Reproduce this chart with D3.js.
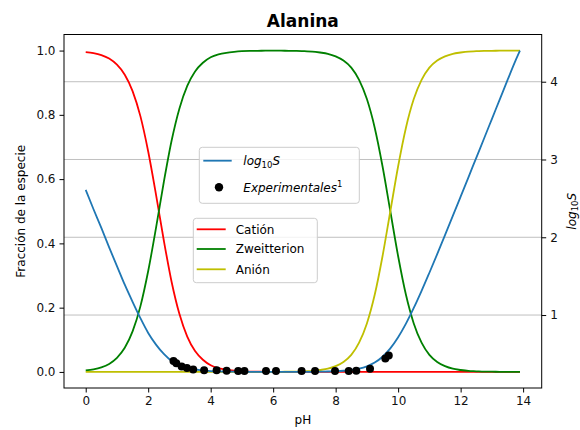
<!DOCTYPE html>
<html lang="es">
<head>
<meta charset="UTF-8">
<script src="https://d3js.org/d3.v7.min.js"></script>
<style>
  body { margin: 0; background: #fff; }
  svg { font-family: "DejaVu Sans", sans-serif; }
</style>
<title>Alanina</title>
</head>
<body>
<div id="chart"></div>
<script>
// valores
const pH = [0, 0.25, 0.5, 0.75, 1, 1.25, 1.5, 1.75, 2, 2.25, 2.5, 2.75, 3, 3.25, 3.5, 3.75, 4, 4.25, 4.5, 4.75,
            5, 5.25, 5.5, 5.75, 6, 6.25, 6.5, 6.75, 7, 7.25, 7.5, 7.75, 8, 8.25, 8.5, 8.75, 9, 9.25, 9.5, 9.75,
            10, 10.25, 10.5, 10.75, 11, 11.25, 11.5, 11.75, 12, 12.25, 12.5, 12.75, 13, 13.25, 13.5, 13.75, 13.9];
const cation = [0.995, 0.992, 0.986, 0.975, 0.956, 0.925, 0.874, 0.796, 0.686, 0.552, 0.409, 0.280, 0.180, 0.110, 0.065, 0.038, 0.021, 0.012, 0.007, 0.004,
                0.002, 0.001, 0.001, 0, 0, 0, 0, 0, 0, 0, 0, 0, 0, 0, 0, 0, 0, 0, 0, 0,
                0, 0, 0, 0, 0, 0, 0, 0, 0, 0, 0, 0, 0, 0, 0, 0, 0];
const zwitterion = [0.005, 0.008, 0.014, 0.025, 0.044, 0.075, 0.126, 0.204, 0.314, 0.448, 0.591, 0.720, 0.820, 0.890, 0.935, 0.962, 0.979, 0.988, 0.993, 0.996,
                    0.998, 0.999, 0.999, 1.0, 1.0, 1.0, 0.999, 0.999, 0.998, 0.997, 0.994, 0.990, 0.982, 0.969, 0.947, 0.909, 0.849, 0.760, 0.640, 0.500,
                    0.360, 0.240, 0.151, 0.091, 0.053, 0.031, 0.018, 0.010, 0.006, 0.003, 0.002, 0.001, 0.001, 0, 0, 0, 0];
const anion = [0, 0, 0, 0, 0, 0, 0, 0, 0, 0, 0, 0, 0, 0, 0, 0, 0, 0, 0, 0,
               0, 0, 0, 0, 0, 0, 0.001, 0.001, 0.002, 0.003, 0.006, 0.010, 0.018, 0.031, 0.053, 0.091, 0.151, 0.240, 0.360, 0.500,
               0.640, 0.760, 0.849, 0.909, 0.947, 0.969, 0.982, 0.990, 0.994, 0.997, 0.998, 0.999, 0.999, 1.0, 1.0, 1.0, 1.0];
const logS = [2.61, 2.36, 2.12, 1.87, 1.63, 1.39, 1.17, 0.96, 0.77, 0.62, 0.50, 0.41, 0.36, 0.32, 0.30, 0.29, 0.28, 0.275, 0.273, 0.272,
              0.271, 0.27, 0.27, 0.27, 0.27, 0.27, 0.27, 0.27, 0.27, 0.27, 0.272, 0.274, 0.278, 0.284, 0.294, 0.311, 0.341, 0.389, 0.464, 0.571,
              0.714, 0.889, 1.091, 1.311, 1.544, 1.783, 2.028, 2.274, 2.522, 2.771, 3.021, 3.270, 3.520, 3.770, 4.020, 4.265, 4.40];

const expPH   = [2.81, 2.90, 3.07, 3.24, 3.44, 3.79, 4.19, 4.51, 4.88, 5.08, 5.77, 6.09, 6.91, 7.34, 7.98, 8.42, 8.66, 9.10, 9.59, 9.70];
const expLogS = [0.41, 0.38, 0.34, 0.32, 0.30, 0.29, 0.29, 0.285, 0.28, 0.28, 0.28, 0.28, 0.28, 0.28, 0.28, 0.28, 0.285, 0.31, 0.44, 0.48];

const xTicks = [0, 2, 4, 6, 8, 10, 12, 14];
const yTicks = [0, 0.2, 0.4, 0.6, 0.8, 1.0];
const y2Ticks = [1, 2, 3, 4];

const w = 580, h = 430;
const padL = 64, padR = 541.7, padT = 34.5, padB = 388;

const x = d3.scaleLinear().domain([-0.695, 14.595]).range([padL, padR]);
const y = d3.scaleLinear().domain([-0.05, 1.05]).range([padB, padT]);
const y2 = d3.scaleLinear().domain([0.062, 4.607]).range([padB, padT]);

const svg = d3.select("#chart").append("svg")
    .attr("width", w)
    .attr("height", h);

svg.append("clipPath").attr("id", "clip")
   .append("rect")
   .attr("x", padL).attr("y", padT)
   .attr("width", padR - padL).attr("height", padB - padT);

// rejilla (eje derecho)
svg.append("g")
   .selectAll("line")
   .data(y2Ticks)
   .enter()
   .append("line")
   .attr("x1", padL).attr("x2", padR)
   .attr("y1", d => y2(d)).attr("y2", d => y2(d))
   .attr("stroke", "#b0b0b0")
   .attr("stroke-width", 0.8);

const plot = svg.append("g").attr("clip-path", "url(#clip)");

const series = [
    {name: "Catión", vals: cation, color: "#ff0000"},
    {name: "Zweitterion", vals: zwitterion, color: "#008000"},
    {name: "Anión", vals: anion, color: "#bfbf00"}
];

series.forEach(s => {
    const line = d3.line()
        .x((d, i) => x(pH[i]))
        .y(d => y(d))
        .curve(d3.curveMonotoneX);
    plot.append("path")
        .attr("d", line(s.vals))
        .attr("fill", "none")
        .attr("stroke", s.color)
        .attr("stroke-width", 1.8);
});

const lineS = d3.line()
    .x((d, i) => x(pH[i]))
    .y(d => y2(d))
    .curve(d3.curveMonotoneX);
plot.append("path")
    .attr("d", lineS(logS))
    .attr("fill", "none")
    .attr("stroke", "#1f77b4")
    .attr("stroke-width", 1.8);

plot.selectAll("circle")
    .data(expPH)
    .enter()
    .append("circle")
    .attr("cx", d => x(d))
    .attr("cy", (d, i) => y2(expLogS[i]))
    .attr("r", 4)
    .attr("fill", "#000");

// ejes
const xAxis = d3.axisBottom(x).tickValues(xTicks).tickFormat(d3.format("d")).tickSize(4.5).tickPadding(4);
const yAxis = d3.axisLeft(y).tickValues(yTicks).tickFormat(d3.format(".1f")).tickSize(4.5).tickPadding(4);
const y2Axis = d3.axisRight(y2).tickValues(y2Ticks).tickFormat(d3.format("d")).tickSize(4.5).tickPadding(4);

function styleAxis(g) {
    g.select(".domain").remove();
    g.selectAll("line").attr("stroke", "#000").attr("stroke-width", 1);
    g.selectAll("text").attr("font-size", "12px").attr("fill", "#111")
     .attr("font-family", "DejaVu Sans, sans-serif");
}

svg.append("g").attr("transform", "translate(0," + padB + ")").call(xAxis).call(styleAxis);
svg.append("g").attr("transform", "translate(" + padL + ",0)").call(yAxis).call(styleAxis);
svg.append("g").attr("transform", "translate(" + padR + ",0)").call(y2Axis).call(styleAxis);

svg.append("rect")
   .attr("x", padL).attr("y", padT)
   .attr("width", padR - padL).attr("height", padB - padT)
   .attr("fill", "none")
   .attr("stroke", "#000")
   .attr("stroke-width", 1);

// textos
svg.append("text")
   .attr("x", (padL + padR) / 2).attr("y", 27)
   .attr("text-anchor", "middle")
   .attr("font-size", "17px").attr("font-weight", "bold")
   .text("Alanina");

svg.append("text")
   .attr("x", (padL + padR) / 2).attr("y", 424)
   .attr("text-anchor", "middle")
   .attr("font-size", "12px")
   .text("pH");

svg.append("text")
   .attr("transform", "translate(24.5," + (padT + padB) / 2 + ") rotate(-90)")
   .attr("text-anchor", "middle")
   .attr("font-size", "12px")
   .text("Fracción de la especie");

const rl = svg.append("text")
   .attr("transform", "translate(575.5," + (padT + padB) / 2 + ") rotate(-90)")
   .attr("text-anchor", "middle")
   .attr("font-size", "12px")
   .attr("font-style", "italic");
rl.append("tspan").text("log");
rl.append("tspan").attr("font-size", "8.5px").attr("dy", 2.5).attr("font-style", "normal").text("10");
rl.append("tspan").attr("dy", -2.5).text("S");

// leyenda 1
const lg1 = svg.append("g");
lg1.append("rect")
   .attr("x", 199.3).attr("y", 147.3).attr("width", 160).attr("height", 56)
   .attr("rx", 3)
   .attr("fill", "#fff").attr("fill-opacity", 0.8)
   .attr("stroke", "#cccccc").attr("stroke-width", 1);
lg1.append("line")
   .attr("x1", 203.3).attr("x2", 231.7).attr("y1", 160.7).attr("y2", 160.7)
   .attr("stroke", "#1f77b4").attr("stroke-width", 1.8);
const t1 = lg1.append("text").attr("x", 243.3).attr("y", 165).attr("font-size", "12px").attr("font-style", "italic");
t1.append("tspan").text("log");
t1.append("tspan").attr("font-size", "8.5px").attr("dy", 2.5).attr("font-style", "normal").text("10");
t1.append("tspan").attr("dy", -2.5).text("S");
lg1.append("circle").attr("cx", 219).attr("cy", 187.3).attr("r", 4.2).attr("fill", "#000");
const t2 = lg1.append("text").attr("x", 243.3).attr("y", 191.6).attr("font-size", "12px").attr("font-style", "italic");
t2.append("tspan").text("Experimentales");
t2.append("tspan").attr("font-size", "8.5px").attr("dy", -5).attr("font-style", "normal").text("1");

// leyenda 2
const lg2 = svg.append("g");
lg2.append("rect")
   .attr("x", 193.3).attr("y", 218.3).attr("width", 124).attr("height", 64.4)
   .attr("rx", 3)
   .attr("fill", "#fff").attr("fill-opacity", 0.8)
   .attr("stroke", "#cccccc").attr("stroke-width", 1);
const rows = [229.3, 249, 269.3];
series.forEach((s, i) => {
    lg2.append("line")
       .attr("x1", 196.7).attr("x2", 225.7).attr("y1", rows[i]).attr("y2", rows[i])
       .attr("stroke", s.color).attr("stroke-width", 1.8);
    lg2.append("text")
       .attr("x", 235.7).attr("y", rows[i] + 4.3)
       .attr("font-size", "12px")
       .text(s.name);
});
</script>
</body>
</html>
